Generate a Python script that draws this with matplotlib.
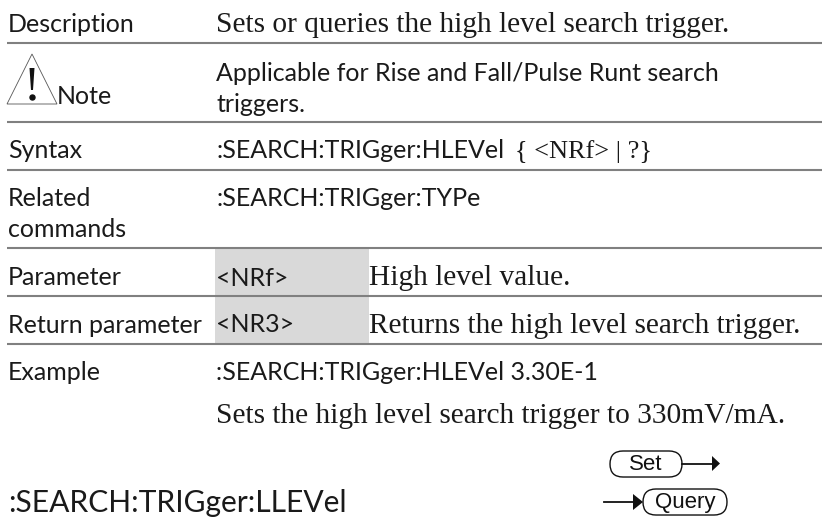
import matplotlib
matplotlib.use("Agg")
import matplotlib.pyplot as plt
from matplotlib.patches import Rectangle, FancyBboxPatch, Polygon

SANS = "Lato"
SERIF = "Liberation Serif"
INK = "#1a1a1a"
RULE = "#808080"
SHADE = "#d9d9d9"

rule_rows = [43, 121.7, 170, 248, 296, 343.7]
sans_labels = [("Description", 8, 32), ("Syntax", 8, 158),
               ("Related", 8, 206), ("commands", 8, 237), ("Parameter", 8, 285),
               ("Return parameter", 8, 333), ("Example", 8, 380),
               ("<NRf>", 216, 285.5), ("<NR3>", 216, 332.5)]
sans_body = [("Applicable for Rise and Fall/Pulse Runt search", 216, 81),
             ("triggers.", 216, 112),
             (":SEARCH:TRIGger:TYPe", 216, 206),
             (":SEARCH:TRIGger:HLEVel", 216, 158),
             (":SEARCH:TRIGger:HLEVel 3.30E-1", 216, 380)]
serif_lines = [("Sets or queries the high level search trigger.", 216, 32),
               ("High level value.", 369, 285),
               ("Returns the high level search trigger.", 369, 333),
               ("Sets the high level search trigger to 330mV/mA.", 216, 423)]
syntax_args = "{ <NRf> | ?}"
heading = ":SEARCH:TRIGger:LLEVel"

fig = plt.figure(figsize=(8.22, 5.2), dpi=100)
ax = fig.add_axes([0, 0, 1, 1])
ax.set_xlim(0, 822)
ax.set_ylim(520, 0)
ax.axis("off")

ax.add_patch(Rectangle((215, 248), 154, 96, fc=SHADE, ec="none", zorder=1))
for y in rule_rows:
    ax.plot([7, 822], [y, y], color=RULE, lw=1.5, solid_capstyle="butt", zorder=2)

for s, x, y in sans_labels + sans_body:
    ax.text(x, y, s, family=SANS, size=18.0, color=INK, va="baseline", ha="left", zorder=3)
ax.text(57, 104, "Note", family=SANS, size=18.0, color=INK, va="baseline", zorder=3)
for s, x, y in serif_lines:
    ax.text(x, y, s, family=SERIF, size=21.15, color=INK, va="baseline", ha="left", zorder=3)
ax.text(515, 158, syntax_args, family=SERIF, size=18.9, color=INK, va="baseline", zorder=3)
ax.text(8, 512, heading, family=SANS, size=21.6, color=INK, va="baseline", zorder=3)

# caution triangle
ax.add_patch(Polygon([(7, 104), (32, 54), (57, 104)], closed=True, fc="white",
                     ec="#555555", lw=0.6, zorder=2))
ax.add_patch(Polygon([(29.5, 68), (34.5, 68), (33, 90), (31, 90)], closed=True, fc="#111111",
                     ec="none", zorder=3))
ax.plot([32], [97], "o", ms=3.6, color="#111111", zorder=3)

# Set / Query glyphs
for (x0, x1, y0, y1, s) in [(610, 682, 451, 477, "Set"), (643, 727, 489, 515, "Query")]:
    r = (y1 - y0) / 2
    ax.add_patch(FancyBboxPatch((x0 + r, y0 + r), x1 - x0 - 2 * r, 0.01,
                                boxstyle=f"round,pad={r},rounding_size={r}",
                                fc="white", ec="#111111", lw=1.0, zorder=3))
    ax.text((x0 + x1) / 2, (y0 + y1) / 2 + 0.5, s, family="Liberation Sans", size=16,
            color="#111111", ha="center", va="center", zorder=4)
ax.plot([682, 713], [463.5, 463.5], color="#111111", lw=1.3, zorder=3)
ax.add_patch(Polygon([(712, 456), (720, 463.5), (712, 471)], closed=True, fc="#111111", ec="none", zorder=3))
ax.plot([604, 634], [502, 502], color="#111111", lw=1.3, zorder=3)
ax.add_patch(Polygon([(633, 494), (643, 502), (633, 510)], closed=True, fc="#111111", ec="none", zorder=3))

fig.savefig("out.png", dpi=100, facecolor="white")
